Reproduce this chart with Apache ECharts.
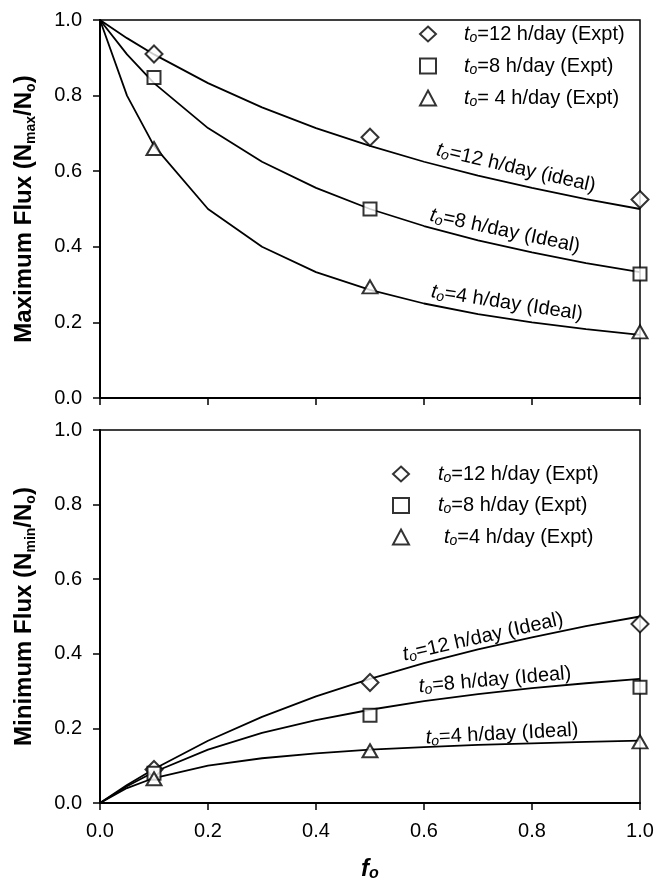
<!DOCTYPE html>
<html>
<head>
<meta charset="utf-8">
<script src="https://cdn.jsdelivr.net/npm/echarts@6/dist/echarts.min.js"></script>
<style>
html,body{margin:0;padding:0;background:#fff;}
#chart{width:657px;height:883px;}
</style>
</head>
<body>
<div id="chart"></div>
<script>
// ---- data ----
const fIdeal = [0, 0.05, 0.1, 0.2, 0.3, 0.4, 0.5, 0.6, 0.7, 0.8, 0.9, 1.0];
const maxIdeal12 = [1.0, 0.952, 0.909, 0.833, 0.769, 0.714, 0.667, 0.625, 0.588, 0.556, 0.526, 0.5];
const maxIdeal8  = [1.0, 0.909, 0.833, 0.714, 0.625, 0.556, 0.5, 0.455, 0.417, 0.385, 0.357, 0.333];
const maxIdeal4  = [1.0, 0.8, 0.667, 0.5, 0.4, 0.333, 0.286, 0.25, 0.222, 0.2, 0.182, 0.167];
const minIdeal12 = [0, 0.048, 0.091, 0.167, 0.231, 0.286, 0.333, 0.375, 0.412, 0.444, 0.474, 0.5];
const minIdeal8  = [0, 0.045, 0.083, 0.143, 0.188, 0.222, 0.25, 0.273, 0.292, 0.308, 0.321, 0.333];
const minIdeal4  = [0, 0.04, 0.067, 0.1, 0.12, 0.133, 0.143, 0.15, 0.156, 0.16, 0.164, 0.167];

const fExpt = [0.1, 0.5, 1.0];
const maxExpt12 = [0.91, 0.69, 0.525];
const maxExpt8  = [0.848, 0.50, 0.328];
const maxExpt4  = [0.66, 0.294, 0.175];
const minExpt12 = [0.09, 0.323, 0.48];
const minExpt8  = [0.08, 0.235, 0.31];
const minExpt4  = [0.065, 0.14, 0.164];

const xTicks = [0, 0.2, 0.4, 0.6, 0.8, 1.0];
const yTicks = [0, 0.2, 0.4, 0.6, 0.8, 1.0];

const legendTop = {
  'Max 12 Expt': ['', '=12 h/day (Expt)'],
  'Max 8 Expt': ['', '=8 h/day (Expt)'],
  'Max 4 Expt': ['', '= 4 h/day (Expt)']
};
const legendBottom = {
  'Min 12 Expt': ['', '=12 h/day (Expt)'],
  'Min 8 Expt': ['', '=8 h/day (Expt)'],
  'Min 4 Expt': ['2', '=4 h/day (Expt)']
};

const FONT = '"Liberation Sans", Arial, sans-serif';

function zip(xs, ys) { return xs.map((x, i) => [x, ys[i]]); }

function lineSeries(idx, ys) {
  return {
    type: 'line', xAxisIndex: idx, yAxisIndex: idx,
    data: zip(fIdeal, ys), symbol: 'none', smooth: false,
    lineStyle: { color: '#000', width: 1.8 }, silent: true, z: 2
  };
}
const mk = { color: '#fff', borderColor: '#000', borderWidth: 2 };
function scatterSeries(name, idx, ys, symbol, size) {
  return {
    name: name, type: 'scatter', xAxisIndex: idx, yAxisIndex: idx,
    data: zip(fExpt, ys), symbol: symbol, symbolSize: size,
    itemStyle: mk, z: 5
  };
}

const subRich = {
  it: { fontFamily: FONT, fontSize: 20, fontStyle: 'italic', color: '#000', lineHeight: 22 },
  sub: { fontFamily: FONT, fontSize: 14, fontStyle: 'italic', color: '#000', lineHeight: 2, verticalAlign: 'bottom' },
  n: { fontFamily: FONT, fontSize: 20, color: '#000', lineHeight: 22 },
  pad: { width: 23, height: 22 },
  pad2: { width: 30, height: 22 },
  padb: { width: 24, height: 22 }
};

function legendFmt(map, padKey) {
  return function (name) {
    const e = map[name];
    const p = e[0] === '2' ? 'pad2' : padKey;
    return '{' + p + '|}{it|t}{sub|o}{n|' + e[1] + '}';
  };
}

function axisX(idx, showLabel) {
  return {
    type: 'value', gridIndex: idx, min: 0, max: 1, interval: 0.2,
    axisLine: { show: true, onZero: false, lineStyle: { color: '#000', width: 2 } },
    axisTick: { show: true, length: 7, lineStyle: { color: '#000', width: 1.5 } },
    axisLabel: { show: showLabel, margin: 18, fontSize: 20, fontFamily: FONT, color: '#000',
      formatter: v => v.toFixed(1) },
    splitLine: { show: false },
    name: showLabel ? '{f|f}{o|o}' : '',
    nameLocation: 'middle', nameGap: 53,
    nameTextStyle: {
      rich: {
        f: { fontFamily: FONT, fontSize: 24, fontWeight: 'bold', fontStyle: 'italic', color: '#000', lineHeight: 26 },
        o: { fontFamily: FONT, fontSize: 16, fontWeight: 'bold', fontStyle: 'italic', color: '#000', lineHeight: 2, verticalAlign: 'bottom' }
      }
    }
  };
}
function axisY(idx, label, sub) {
  return {
    type: 'value', gridIndex: idx, min: 0, max: 1, interval: 0.2,
    axisLine: { show: true, lineStyle: { color: '#000', width: 2 } },
    axisTick: { show: true, length: 7, lineStyle: { color: '#000', width: 1.5 } },
    axisLabel: { margin: 18, fontSize: 20, fontFamily: FONT, color: '#000',
      formatter: v => v.toFixed(1) },
    splitLine: { show: false },
    name: '{b|' + label + ' (N}{s|' + sub + '}{b|/N}{s|o}{b|)}',
    nameLocation: 'middle', nameGap: 62,
    nameTextStyle: {
      rich: {
        b: { fontFamily: FONT, fontSize: 24, fontWeight: 'bold', color: '#000', lineHeight: 28 },
        s: { fontFamily: FONT, fontSize: 14, fontWeight: 'bold', color: '#000', lineHeight: 4, verticalAlign: 'bottom' }
      }
    }
  };
}

function curveLabel(x, y, deg, txt) {
  return {
    type: 'text', x: x, y: y, rotation: deg * Math.PI / 180, z: 10,
    style: {
      text: '{it|t}{sub|o}{n|' + txt + '}',
      rich: subRich, align: 'center', verticalAlign: 'middle', fill: '#000'
    }
  };
}

const chart = echarts.init(document.getElementById('chart'), null, { renderer: 'canvas' });
chart.setOption({
  backgroundColor: '#fff',
  animation: false,
  grid: [
    { left: 100, top: 20, width: 540, height: 378, show: true, borderColor: '#000', borderWidth: 1.5 },
    { left: 100, top: 430, width: 540, height: 378, show: true, borderColor: '#000', borderWidth: 1.5 }
  ],
  xAxis: [axisX(0, false), axisX(1, true)],
  yAxis: [axisY(0, 'Maximum Flux', 'max'), axisY(1, 'Minimum Flux', 'min')],
  legend: [
    {
      data: ['Max 12 Expt', 'Max 8 Expt', 'Max 4 Expt'], orient: 'vertical',
      left: 419, top: 24, padding: 0, itemGap: 11, itemWidth: 16, itemHeight: 15,
      formatter: legendFmt(legendTop, 'pad'), textStyle: { rich: subRich }, selectedMode: false
    },
    {
      data: ['Min 12 Expt', 'Min 8 Expt', 'Min 4 Expt'], orient: 'vertical',
      left: 392, top: 464, padding: 0, itemGap: 10.5, itemWidth: 16, itemHeight: 15,
      formatter: legendFmt(legendBottom, 'padb'), textStyle: { rich: subRich }, selectedMode: false
    }
  ],
  series: [
    lineSeries(0, maxIdeal12), lineSeries(0, maxIdeal8), lineSeries(0, maxIdeal4),
    lineSeries(1, minIdeal12), lineSeries(1, minIdeal8), lineSeries(1, minIdeal4),
    scatterSeries('Max 12 Expt', 0, maxExpt12, 'diamond', 17),
    scatterSeries('Max 8 Expt', 0, maxExpt8, 'rect', 13),
    scatterSeries('Max 4 Expt', 0, maxExpt4, 'triangle', [15, 13]),
    scatterSeries('Min 12 Expt', 1, minExpt12, 'diamond', 17),
    scatterSeries('Min 8 Expt', 1, minExpt8, 'rect', 13),
    scatterSeries('Min 4 Expt', 1, minExpt4, 'triangle', [15, 13])
  ],
  graphic: [
    curveLabel(516, 168, -13, '=12 h/day (ideal)'),
    curveLabel(505, 231, -12, '=8 h/day (Ideal)'),
    curveLabel(507, 303, -8.6, '=4 h/day (Ideal)'),
    curveLabel(483, 637, 12.7, '=12 h/day (Ideal)'),
    curveLabel(495, 680, 5, '=8 h/day (Ideal)'),
    curveLabel(502, 734, 2.9, '=4 h/day (Ideal)')
  ]
});
</script>
</body>
</html>
